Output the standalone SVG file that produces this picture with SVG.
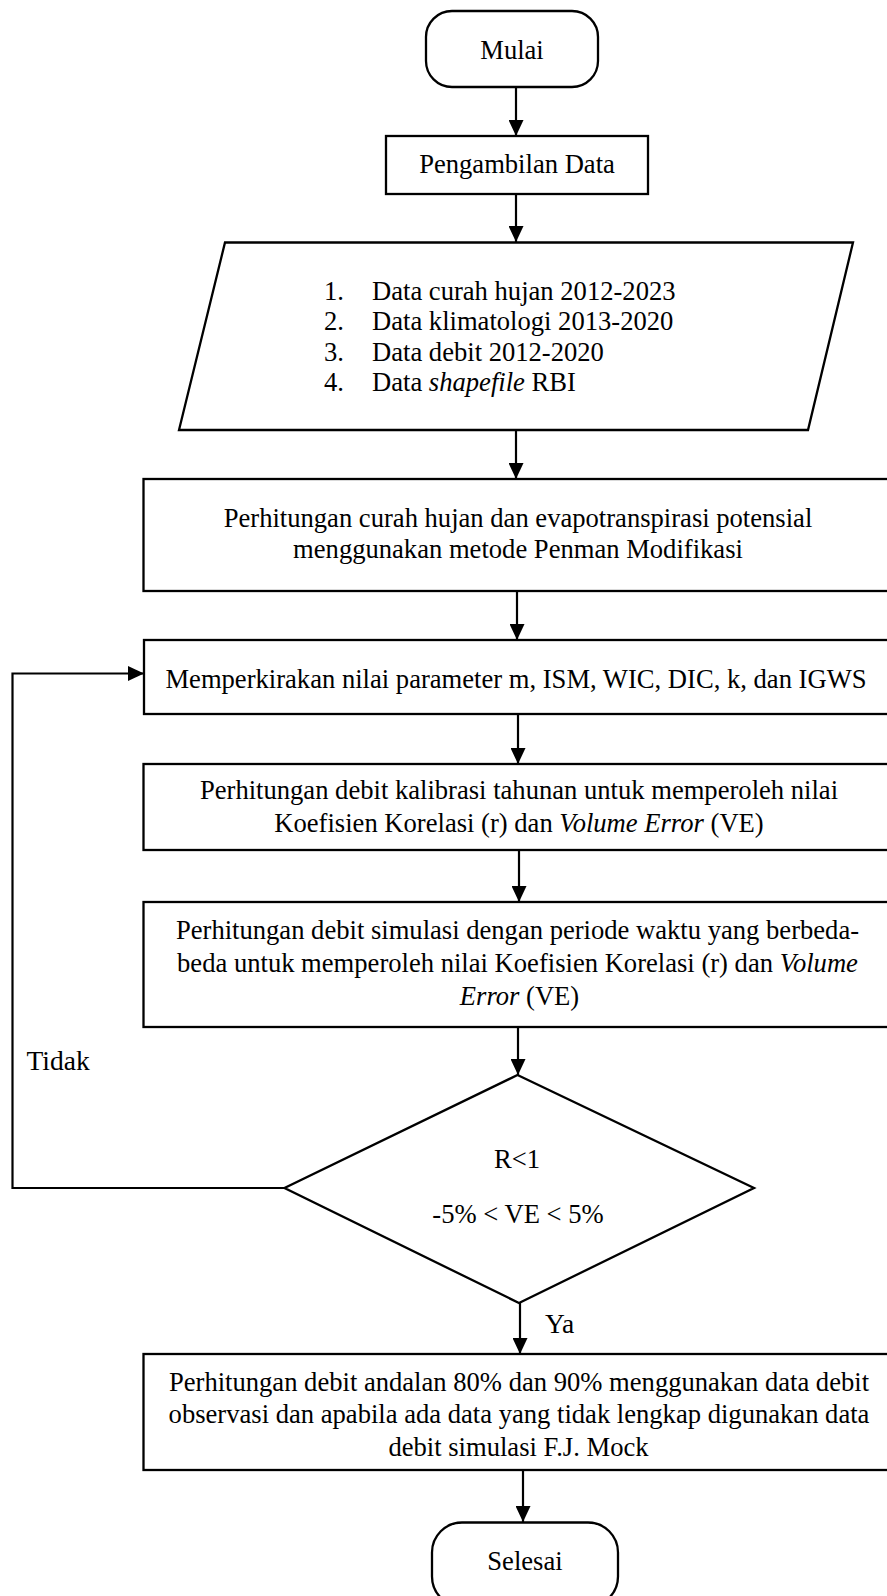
<svg xmlns="http://www.w3.org/2000/svg" width="887" height="1596" viewBox="0 0 887 1596">
<style>
.shape{fill:#fff;stroke:#000;stroke-width:2.3}
.conn{fill:none;stroke:#000;stroke-width:2.2}
text{font-family:"Liberation Serif","Times New Roman",serif;font-size:26.6px;fill:#000}
.c{text-anchor:middle}
.i{font-style:italic}
</style>
<defs>
<marker id="ah" viewBox="0 0 16 15" refX="16" refY="7.5" markerWidth="16" markerHeight="15" markerUnits="userSpaceOnUse" orient="auto">
<path d="M0,0 L16,7.5 L0,15 z" fill="#000"/>
</marker>
</defs>
<rect width="887" height="1596" fill="#fff"/>
<g id="connectors">
<line class="conn" x1="516" y1="87" x2="516" y2="136" marker-end="url(#ah)"/>
<line class="conn" x1="516" y1="194" x2="516" y2="242" marker-end="url(#ah)"/>
<line class="conn" x1="516" y1="430" x2="516" y2="479" marker-end="url(#ah)"/>
<line class="conn" x1="517" y1="591" x2="517" y2="640" marker-end="url(#ah)"/>
<line class="conn" x1="518" y1="714" x2="518" y2="764" marker-end="url(#ah)"/>
<line class="conn" x1="519" y1="850" x2="519" y2="902" marker-end="url(#ah)"/>
<line class="conn" x1="518" y1="1027" x2="518" y2="1075" marker-end="url(#ah)"/>
<line class="conn" x1="520" y1="1303" x2="520" y2="1354" marker-end="url(#ah)"/>
<line class="conn" x1="523" y1="1470" x2="523" y2="1522" marker-end="url(#ah)"/>
<polyline class="conn" points="284.5,1188 12.5,1188 12.5,673.5 144,673.5" marker-end="url(#ah)"/>
<text x="26.5" y="1070" style="font-size:27.5px">Tidak</text>
<text x="545" y="1333" style="font-size:27.5px">Ya</text>
</g>
<g id="mulai">
<rect class="shape" x="426" y="11" width="172" height="76" rx="26" ry="26"/>
<text class="c" x="512" y="59">Mulai</text>
</g>
<g id="pengambilan">
<rect class="shape" x="386" y="136" width="262" height="58"/>
<text class="c" x="517" y="173">Pengambilan Data</text>
</g>
<g id="data-input">
<polygon class="shape" points="225,242.5 853,242.5 808,430 179,430"/>
<text x="324" y="300">1.</text><text x="372" y="300">Data curah hujan 2012-2023</text>
<text x="324" y="330">2.</text><text x="372" y="330">Data klimatologi 2013-2020</text>
<text x="324" y="361">3.</text><text x="372" y="361">Data debit 2012-2020</text>
<text x="324" y="391">4.</text><text x="372" y="391">Data <tspan class="i">shapefile</tspan> RBI</text>
</g>
<g id="evapotranspirasi">
<rect class="shape" x="143.5" y="479" width="760" height="112"/>
<text class="c" x="518" y="527">Perhitungan curah hujan dan evapotranspirasi potensial</text>
<text class="c" x="518" y="558">menggunakan metode Penman Modifikasi</text>
</g>
<g id="parameter">
<rect class="shape" x="144" y="640" width="760" height="74"/>
<text class="c" x="516" y="688">Memperkirakan nilai parameter m, ISM, WIC, DIC, k, dan IGWS</text>
</g>
<g id="kalibrasi">
<rect class="shape" x="143.5" y="764" width="760" height="86"/>
<text class="c" x="519" y="799">Perhitungan debit kalibrasi tahunan untuk memperoleh nilai</text>
<text class="c" x="519" y="832">Koefisien Korelasi (r) dan <tspan class="i">Volume Error</tspan> (VE)</text>
</g>
<g id="simulasi">
<rect class="shape" x="143.5" y="902" width="760" height="125"/>
<text class="c" x="517.5" y="939">Perhitungan debit simulasi dengan periode waktu yang berbeda-</text>
<text class="c" x="517.5" y="972">beda untuk memperoleh nilai Koefisien Korelasi (r) dan <tspan class="i">Volume</tspan></text>
<text class="c" x="519.5" y="1005"><tspan class="i">Error</tspan> (VE)</text>
</g>
<g id="keputusan">
<polygon class="shape" points="517.5,1075 754,1188 519,1303 284.5,1188"/>
<text class="c" x="517" y="1168">R&lt;1</text>
<text class="c" x="518" y="1223">-5% &lt; VE &lt; 5%</text>
</g>
<g id="andalan">
<rect class="shape" x="143.5" y="1354" width="760" height="116"/>
<text class="c" x="519" y="1391">Perhitungan debit andalan 80% dan 90% menggunakan data debit</text>
<text class="c" x="519" y="1423">observasi dan apabila ada data yang tidak lengkap digunakan data</text>
<text class="c" x="518.5" y="1456">debit simulasi F.J. Mock</text>
</g>
<g id="selesai">
<rect class="shape" x="432" y="1522.5" width="186" height="84" rx="30" ry="30"/>
<text class="c" x="525" y="1570">Selesai</text>
</g>
</svg>
